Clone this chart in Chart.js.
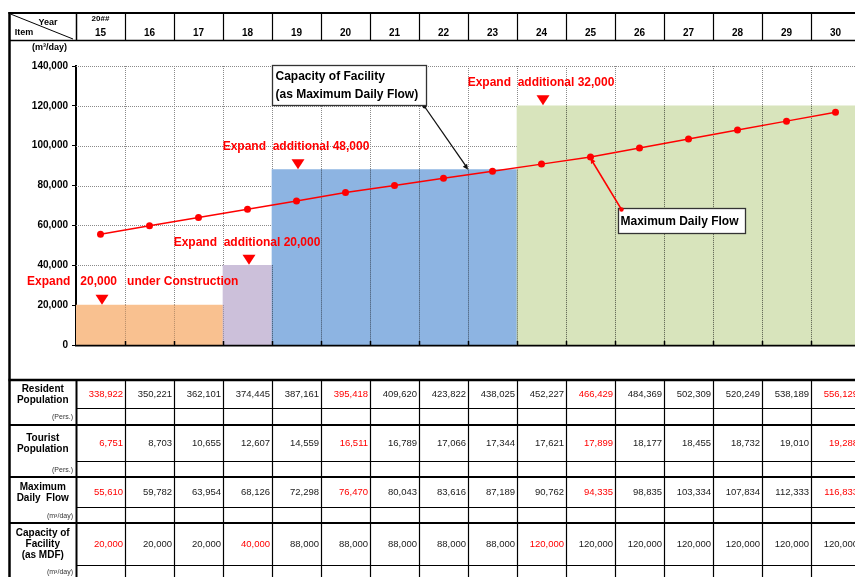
<!DOCTYPE html>
<html>
<head>
<meta charset="utf-8">
<script src="https://cdn.jsdelivr.net/npm/chart.js@4/dist/chart.umd.min.js"></script>
<style>
  html, body { margin: 0; padding: 0; background: #fff; overflow: hidden; width: 855px; height: 577px; }
  canvas { display: block; }
</style>
</head>
<body>
<canvas id="plan" width="880" height="577"></canvas>
<script>
// ---- data ----
const yearPrefix = '20##';
const years = ['15','16','17','18','19','20','21','22','23','24','25','26','27','28','29','30'];
const residentPop = [338922,350221,362101,374445,387161,395418,409620,423822,438025,452227,466429,484369,502309,520249,538189,556129];
const touristPop = [6751,8703,10655,12607,14559,16511,16789,17066,17344,17621,17899,18177,18455,18732,19010,19288];
const maxDailyFlow = [55610,59782,63954,68126,72298,76470,80043,83616,87189,90762,94335,98835,103334,107834,112333,116833];
const facilityCapacity = [20000,20000,20000,40000,88000,88000,88000,88000,88000,120000,120000,120000,120000,120000,120000,120000];
const yMax = 140000;
const yStep = 20000;
const milestoneYears = [0, 5, 10, 15];      // highlighted columns in the population / flow rows
const capacityMarkedYears = [0, 3, 9];      // highlighted columns in the capacity row
const expansionYears = [0, 3, 4, 9];
const expansionTexts = ['Expand   20,000   under Construction', 'Expand  additional 20,000', 'Expand  additional 48,000', 'Expand  additional 32,000'];
const capacityNote = ['Capacity of Facility', '(as Maximum Daily Flow)'];
const flowNote = 'Maximum Daily Flow';
const capacityNoteYear = 8;   // arrow points at the left edge of this column on the capacity bar
const flowNoteYear = 10;      // arrow points at this year's flow point

// ---- styles ----
const RED = '#FF0000';
const INK = '#1a1a1a';
const FONT = '"Liberation Sans", Arial, sans-serif';
const barStyles = {
  20000:  { fill: '#F9C190', gridAlpha: 0.28 },
  40000:  { fill: '#CCC0DA', gridAlpha: 0.6 },
  88000:  { fill: '#8DB4E2', gridAlpha: 0.6 },
  120000: { fill: '#D8E4BC', gridAlpha: 0.6 }
};

function boundary(x, i) {
  const step = x.getPixelForValue(1) - x.getPixelForValue(0);
  return x.getPixelForValue(i) - step / 2;
}
function seg(ctx, x1, y1, x2, y2) {
  ctx.beginPath(); ctx.moveTo(x1, y1); ctx.lineTo(x2, y2); ctx.stroke();
}
function fmt(v) { return v.toLocaleString('en-US'); }
function arrowHead(ctx, fx, fy, tx, ty, size) {
  const a = Math.atan2(ty - fy, tx - fx);
  ctx.beginPath();
  ctx.moveTo(tx, ty);
  ctx.lineTo(tx - size * Math.cos(a - 0.45), ty - size * Math.sin(a - 0.45));
  ctx.lineTo(tx - size * Math.cos(a + 0.45), ty - size * Math.sin(a + 0.45));
  ctx.closePath(); ctx.fill();
}

const sheetPlugin = {
  id: 'sheet',
  beforeDatasetsDraw(chart) {
    const { ctx, chartArea: a, scales: { x, y } } = chart;
    ctx.save();
    ctx.strokeStyle = '#8a8a8a'; ctx.lineWidth = 1; ctx.setLineDash([1, 1]);
    y.ticks.forEach(t => {
      if (t.value === 0) return;
      const py = Math.round(y.getPixelForValue(t.value)) + 0.5;
      seg(ctx, a.left, py, a.right, py);
    });
    for (let i = 1; i < years.length; i++) {
      const px = Math.round(boundary(x, i)) + 0.5;
      seg(ctx, px, a.top, px, a.bottom);
    }
    ctx.restore();
  },
  afterDatasetDraw(chart, args) {
    if (args.meta.type !== 'bar') return;
    const { ctx, chartArea: a, scales: { x, y } } = chart;
    ctx.save();
    ctx.lineWidth = 1;
    for (let i = 1; i < years.length; i++) {
      const l = barStyles[facilityCapacity[i - 1]], r = barStyles[facilityCapacity[i]];
      const px = Math.round(boundary(x, i)) + 0.5;
      const top = y.getPixelForValue(Math.min(facilityCapacity[i - 1], facilityCapacity[i]));
      ctx.setLineDash([1, 1]);
      ctx.strokeStyle = `rgba(0,0,0,${Math.min(l.gridAlpha, r.gridAlpha)})`;
      seg(ctx, px, top, px, a.bottom);
      // short inward tick on the category axis
      ctx.setLineDash([]);
      ctx.strokeStyle = '#000'; ctx.lineWidth = 1.5;
      seg(ctx, px, a.bottom - 4, px, a.bottom);
      ctx.lineWidth = 1;
    }
    ctx.restore();
  },
  afterDraw(chart) {
    const { ctx, chartArea: a, scales: { x, y } } = chart;
    const W = chart.width;
    const n = years.length;
    const xs = [];
    for (let i = 0; i <= n; i++) xs.push(boundary(x, i));
    const cx = i => x.getPixelForValue(i);
    ctx.save();

    // expansion markers
    expansionYears.forEach((yi, k) => {
      const tipY = y.getPixelForValue(facilityCapacity[yi]) - 0.5;
      const tx = cx(yi) + 1.5;
      ctx.fillStyle = RED;
      ctx.beginPath();
      ctx.moveTo(tx - 6.5, tipY - 10); ctx.lineTo(tx + 6.5, tipY - 10); ctx.lineTo(tx, tipY);
      ctx.closePath(); ctx.fill();
      ctx.font = 'bold 12px ' + FONT;
      ctx.textBaseline = 'middle';
      const ty = tipY - 5 - 17.5;
      if (k === 0) { ctx.textAlign = 'left'; ctx.fillText(expansionTexts[k], 27, ty); }
      else { ctx.textAlign = 'center'; ctx.fillText(expansionTexts[k], tx - 2, ty); }
    });

    // capacity callout
    const bx = xs[4] + 0.5, by = a.top - 0.5, bw = 154, bh = 40;
    const capTx = xs[capacityNoteYear], capTy = y.getPixelForValue(facilityCapacity[capacityNoteYear]);
    ctx.strokeStyle = '#111'; ctx.fillStyle = '#111'; ctx.lineWidth = 1.3;
    seg(ctx, bx + bw - 2, by + bh + 1, capTx - 1, capTy - 2);
    arrowHead(ctx, bx + bw - 2, by + bh + 1, capTx, capTy, 6);
    ctx.beginPath(); ctx.arc(bx + bw - 2, by + bh + 1, 2, 0, Math.PI * 2); ctx.fill();
    ctx.fillStyle = '#fff'; ctx.fillRect(bx, by, bw, bh);
    ctx.strokeStyle = '#333'; ctx.lineWidth = 1.3; ctx.strokeRect(bx, by, bw, bh);
    ctx.fillStyle = '#000'; ctx.font = 'bold 12px ' + FONT; ctx.textAlign = 'left'; ctx.textBaseline = 'middle';
    ctx.fillText(capacityNote[0], bx + 3, by + 11);
    ctx.fillText(capacityNote[1], bx + 3, by + 29);

    // maximum daily flow callout
    const px = cx(flowNoteYear), py = y.getPixelForValue(maxDailyFlow[flowNoteYear]);
    const fbx = px + 28, fby = py + 51.5, fbw = 127, fbh = 25;
    ctx.strokeStyle = RED; ctx.fillStyle = RED; ctx.lineWidth = 1.5;
    seg(ctx, fbx + 3, fby + 1, px + 1, py + 3);
    arrowHead(ctx, fbx + 3, fby + 1, px, py + 1, 6);
    ctx.fillStyle = '#fff'; ctx.fillRect(fbx, fby, fbw, fbh);
    ctx.strokeStyle = '#333'; ctx.lineWidth = 1.3; ctx.strokeRect(fbx, fby, fbw, fbh);
    ctx.fillStyle = RED; ctx.beginPath(); ctx.arc(fbx + 3, fby + 1, 2.2, 0, Math.PI * 2); ctx.fill();
    ctx.fillStyle = '#000'; ctx.font = 'bold 12px ' + FONT;
    ctx.fillText(flowNote, fbx + 2, fby + 13);

    // ---- header row ----
    const frameX = 9.5;
    ctx.strokeStyle = '#000';
    ctx.lineWidth = 2; seg(ctx, frameX - 1, 13, W, 13);
    ctx.lineWidth = 1.5; seg(ctx, frameX, 40.5, W, 40.5);
    for (let i = 0; i <= n; i++) {
      ctx.lineWidth = i === 0 ? 1.5 : 1.2;
      seg(ctx, Math.round(xs[i]) + 0.5, 13, Math.round(xs[i]) + 0.5, 40.5);
    }
    ctx.lineWidth = 1; seg(ctx, frameX + 1, 14, xs[0] - 3, 39);
    ctx.fillStyle = '#000'; ctx.font = 'bold 9px ' + FONT; ctx.textAlign = 'center'; ctx.textBaseline = 'middle';
    ctx.fillText('Year', 48, 23);
    ctx.fillText('Item', 24, 33);
    ctx.font = 'bold 8px ' + FONT;
    ctx.fillText(yearPrefix, cx(0), 19);
    ctx.font = 'bold 10px ' + FONT;
    years.forEach((yr, i) => ctx.fillText(yr, cx(i), 33));
    ctx.font = 'bold 9px ' + FONT; ctx.textAlign = 'right';
    ctx.fillText('(m\u00B3/day)', 67, 48);

    // ---- data table ----
    const rows = [
      { label: ['Resident', 'Population'], unit: '(Pers.)', values: residentPop, marks: milestoneYears, top: 380, mid: 408, bottom: 425 },
      { label: ['Tourist', 'Population'], unit: '(Pers.)', values: touristPop, marks: milestoneYears, top: 425, mid: 461, bottom: 477 },
      { label: ['Maximum', 'Daily  Flow'], unit: '(m\u00B3/day)', values: maxDailyFlow, marks: milestoneYears, top: 477, mid: 507, bottom: 523 },
      { label: ['Capacity of', 'Facility', '(as MDF)'], unit: '(m\u00B3/day)', values: facilityCapacity, marks: capacityMarkedYears, top: 523, mid: 565, bottom: 600 }
    ];
    ctx.lineWidth = 2.5; seg(ctx, frameX - 1, 380, W, 380);
    rows.forEach(r => {
      ctx.strokeStyle = '#000';
      ctx.lineWidth = 1.2; seg(ctx, xs[0], r.mid + 0.5, W, r.mid + 0.5);
      ctx.lineWidth = 2; seg(ctx, frameX, r.bottom, W, r.bottom);
      for (let i = 0; i <= n; i++) {
        ctx.lineWidth = i === 0 ? 2 : 1.2;
        seg(ctx, Math.round(xs[i]) + 0.5, r.top, Math.round(xs[i]) + 0.5, r.bottom);
      }
      const vy = (r.top + r.mid) / 2 + 0.5;
      ctx.font = 'bold 10px ' + FONT; ctx.textAlign = 'center'; ctx.fillStyle = '#000';
      const lh = 11, l0 = vy - (r.label.length - 1) * lh / 2;
      r.label.forEach((t, k) => ctx.fillText(t, (frameX + xs[0]) / 2, l0 + k * lh));
      ctx.font = '7px ' + FONT; ctx.textAlign = 'right'; ctx.fillStyle = '#333';
      ctx.fillText(r.unit, xs[0] - 3, (r.mid + Math.min(r.bottom, 577)) / 2 + 1);
      ctx.font = '9.5px ' + FONT;
      r.values.forEach((v, i) => {
        ctx.fillStyle = r.marks.includes(i) ? RED : INK;
        ctx.fillText(fmt(v), xs[i + 1] - 2, vy);
      });
    });
    ctx.strokeStyle = '#000'; ctx.lineWidth = 2.5; seg(ctx, frameX, 12, frameX, 577);
    ctx.restore();
  }
};

new Chart(document.getElementById('plan'), {
  data: {
    labels: years,
    datasets: [
      {
        type: 'line', label: 'Maximum Daily Flow', data: maxDailyFlow, order: 0,
        borderColor: RED, borderWidth: 1.5, pointRadius: 3.5, pointBorderWidth: 0,
        pointBackgroundColor: RED, tension: 0
      },
      {
        type: 'bar', label: 'Capacity of Facility', data: facilityCapacity, order: 1,
        backgroundColor: facilityCapacity.map(v => barStyles[v].fill),
        barPercentage: 1, categoryPercentage: 1, borderWidth: 0
      }
    ]
  },
  options: {
    responsive: false, animation: false,
    layout: { padding: { left: 0, right: 20, top: 66, bottom: 232 } },
    plugins: { legend: { display: false }, tooltip: { enabled: false } },
    scales: {
      x: {
        offset: true,
        grid: { offset: true, drawOnChartArea: false, drawTicks: false },
        border: { color: '#000', width: 2.5 },
        ticks: { display: false },
        afterFit(s) { s.height = 0; }
      },
      y: {
        min: 0, max: yMax,
        ticks: { stepSize: yStep, color: '#000', padding: 4, font: { family: FONT, size: 10, weight: 'bold' }, callback: v => fmt(v) },
        grid: { drawOnChartArea: false, tickLength: 4, tickColor: '#000' },
        border: { color: '#000', width: 2 },
        afterFit(s) { s.width = 76; }
      }
    }
  },
  plugins: [sheetPlugin]
});
</script>
</body>
</html>
